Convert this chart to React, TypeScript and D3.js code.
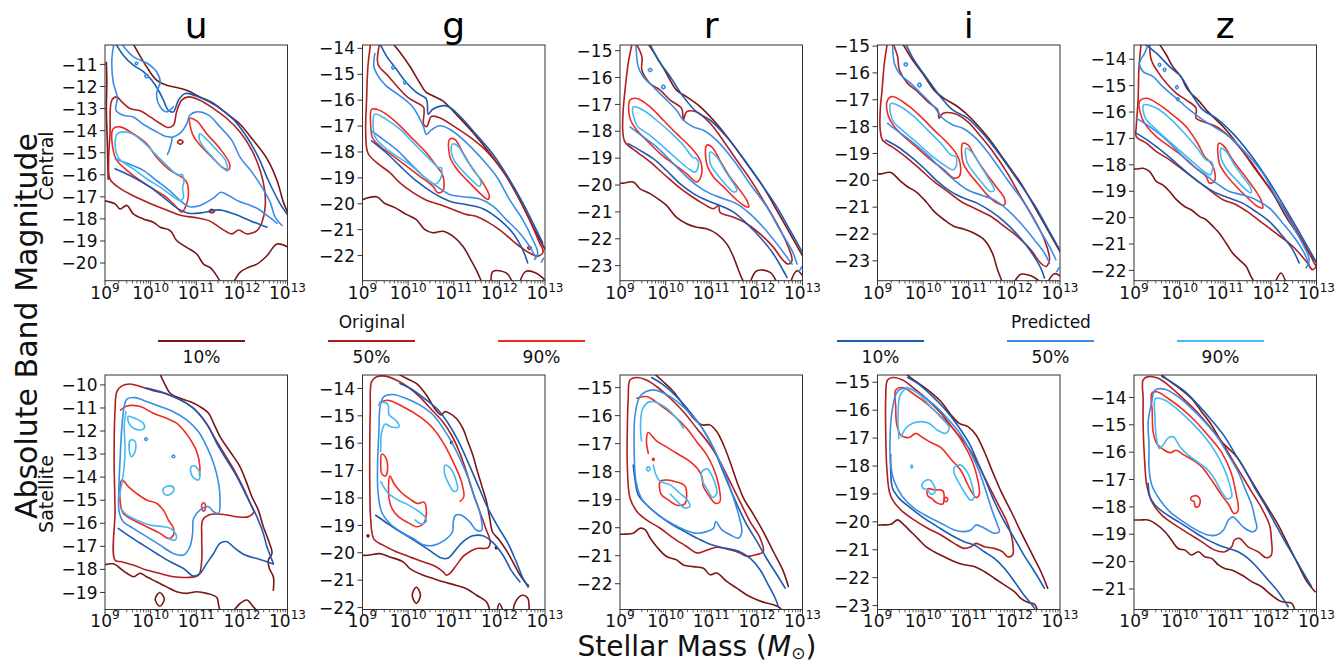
import React from "react";
import * as d3 from "d3";

type Pt = [number, number];
type Path = Pt[];

// ---------------- categories / ticks ----------------
const BANDS = ["u", "g", "r", "i", "z"];
const ROWS = ["Central", "Satellite"];
const LEVELS = ["10%", "50%", "90%"];
const X_DECADES = [9, 10, 11, 12, 13];
const X_MINOR_STEPS = [2, 3, 4, 5, 6, 7, 8, 9];

const Y_RANGE_CENTRAL: [number, number][] = [[-10.12, -20.8], [-13.87, -22.97], [-14.79, -23.56], [-14.96, -23.74], [-13.46, -22.39]];
const Y_RANGE_SATELLITE: [number, number][] = [[-9.57, -19.74], [-13.51, -22.07], [-14.55, -22.92], [-14.74, -23.14], [-13.18, -21.75]];
const Y_TICKS_CENTRAL = [
  [-11, -12, -13, -14, -15, -16, -17, -18, -19, -20],
  [-14, -15, -16, -17, -18, -19, -20, -21, -22],
  [-15, -16, -17, -18, -19, -20, -21, -22, -23],
  [-15, -16, -17, -18, -19, -20, -21, -22, -23],
  [-14, -15, -16, -17, -18, -19, -20, -21, -22],
];
const Y_TICKS_SATELLITE = [
  [-10, -11, -12, -13, -14, -15, -16, -17, -18, -19],
  [-14, -15, -16, -17, -18, -19, -20, -21, -22],
  [-15, -16, -17, -18, -19, -20, -21, -22],
  [-15, -16, -17, -18, -19, -20, -21, -22, -23],
  [-14, -15, -16, -17, -18, -19, -20, -21],
];

const ORIGINAL_COLORS = ["#7a1616", "#b01e1e", "#ef2b22"];
const PREDICTED_COLORS = ["#1c5bb0", "#3a8de6", "#45b9f2"];

// ---------------- contour vertices: [log10 M, magnitude] ----------------
// u / Central
const U_C_O10: Path[] = [
  [[9.6,-10.0],[9.91,-11.1],[10.13,-11.71],[10.35,-11.94],[10.57,-12.05],[10.79,-12.17],[11.08,-12.47],[11.38,-12.77],[11.67,-13.23],[11.96,-13.71],[12.25,-14.44],[12.55,-15.27],[12.77,-16.26],[12.91,-17.24],[13.03,-17.85]],
  [[9.03,-10.9],[9.04,-11.8],[9.03,-13.0],[9.05,-14.5],[9.07,-16.2]],
  [[8.97,-17.17],[9.22,-17.32],[9.33,-17.55],[9.48,-17.39],[9.62,-17.77],[9.84,-18.0],[10.06,-18.15],[10.21,-18.38],[10.43,-18.53],[10.57,-18.98],[10.79,-19.29],[11.01,-19.59],[11.16,-20.05],[11.3,-20.2],[11.45,-20.58],[11.55,-20.95]],
  [[11.8,-20.95],[11.96,-20.42],[12.14,-20.2],[12.33,-20.05],[12.55,-19.67],[12.77,-19.14],[13.03,-19.3]],
];
const U_C_O50: Path[] = [
  [[9.15,-12.62],[9.26,-12.47],[9.37,-12.7],[9.55,-13.0],[9.77,-13.1],[9.99,-13.38],[10.21,-13.68],[10.39,-13.86],[10.5,-13.76],[10.57,-13.15],[10.68,-12.62],[10.83,-12.47],[11.08,-12.62],[11.38,-13.0],[11.67,-13.45],[11.96,-14.06],[12.22,-14.89],[12.4,-15.8],[12.5,-16.71],[12.51,-17.47],[12.44,-18.15],[12.33,-18.53],[12.11,-18.68],[11.93,-18.5],[11.78,-18.68],[11.56,-18.45],[11.3,-18.1],[11.01,-17.95],[10.68,-17.85],[10.35,-17.6],[9.99,-17.3],[9.62,-16.95],[9.33,-16.62],[9.11,-16.2],[9.08,-15.35],[9.11,-14.14],[9.15,-12.62]],
  [[10.59,-14.52],[10.65,-14.42],[10.71,-14.52],[10.65,-14.62],[10.59,-14.52]],
  [[11.28,-17.65],[11.34,-17.57],[11.4,-17.65],[11.34,-17.73],[11.28,-17.65]],
];
const U_C_O90: Path[] = [
  [[9.18,-13.91],[9.33,-13.83],[9.62,-14.14],[9.91,-14.59],[10.13,-15.2],[10.43,-15.8],[10.68,-16.1],[10.79,-16.33],[10.83,-16.86],[10.79,-17.32],[10.68,-17.7],[10.57,-17.47],[10.35,-17.02],[10.06,-16.64],[9.77,-16.26],[9.48,-15.8],[9.26,-15.35],[9.18,-14.89],[9.18,-13.91]],
  [[10.86,-13.45],[11.01,-13.56],[11.23,-14.14],[11.52,-14.82],[11.73,-15.5],[11.71,-15.77],[11.56,-15.65],[11.34,-15.2],[11.12,-14.74],[10.95,-14.29],[10.88,-13.91],[10.86,-13.45]],
];
const U_C_P10: Path[] = [
  [[9.22,-10.0],[9.4,-10.58],[9.62,-11.03],[9.84,-11.33],[10.02,-11.71],[10.17,-12.17],[10.28,-12.62],[10.39,-13.08],[10.5,-13.15],[10.61,-12.62],[10.76,-12.32],[11.08,-12.5],[11.45,-12.89],[11.82,-13.5],[12.11,-14.29],[12.36,-15.2],[12.58,-16.26],[12.84,-17.32],[13.03,-17.9]],
  [[9.22,-15.73],[9.62,-16.11],[9.99,-16.56],[10.35,-17.14],[10.57,-17.5],[10.83,-17.74],[11.16,-17.71],[11.49,-17.59],[11.82,-17.77],[12.18,-18.08],[12.55,-18.38]],
];
const U_C_P50: Path[] = [
  [[9.2,-10.0],[9.15,-10.8],[9.18,-11.8],[9.27,-12.5],[9.24,-13.08],[9.4,-13.3],[9.62,-13.38],[9.84,-13.71],[10.1,-14.02],[10.32,-14.26],[10.46,-14.32],[10.43,-14.74],[10.37,-15.08]],
  [[10.48,-14.3],[10.65,-14.11],[10.79,-13.71],[10.86,-13.3],[11.01,-13.15],[11.27,-13.3],[11.52,-13.83],[11.78,-14.44],[11.96,-15.2],[12.22,-15.88],[12.44,-16.56],[12.62,-17.24],[12.73,-17.92],[12.88,-18.3]],
  [[9.22,-15.27],[9.51,-15.5],[9.84,-15.8],[10.13,-16.26],[10.43,-16.74],[10.65,-17.17],[10.83,-17.44],[11.08,-17.39],[11.38,-17.05],[11.54,-16.79],[11.71,-16.94],[11.93,-17.2],[12.14,-17.35],[12.36,-17.55],[12.58,-17.89],[12.77,-18.2]],
  [[9.34,-10.0],[9.62,-10.65],[9.95,-10.98],[10.13,-11.33],[10.21,-11.79],[10.13,-12.32],[10.21,-12.92],[10.35,-13.15],[10.5,-12.92]],
  [[9.66,-10.95],[9.69,-10.89],[9.72,-10.95],[9.69,-11.01],[9.66,-10.95]],
  [[9.87,-11.53],[9.91,-11.45],[9.95,-11.53],[9.91,-11.61],[9.87,-11.53]],
];
const U_C_P90: Path[] = [
  [[9.27,-14.14],[9.55,-14.11],[9.84,-14.52],[10.13,-15.12],[10.43,-15.73],[10.61,-16.03],[10.68,-15.98],[10.73,-16.26],[10.7,-16.64],[10.72,-17.02],[10.65,-17.17],[10.46,-16.94],[10.21,-16.56],[9.91,-16.18],[9.62,-15.73],[9.33,-15.32],[9.24,-14.97],[9.27,-14.14]],
  [[11.08,-14.14],[11.25,-14.44],[11.45,-14.89],[11.64,-15.35],[11.68,-15.83],[11.56,-15.65],[11.34,-15.17],[11.16,-14.74],[11.07,-14.41],[11.08,-14.14]],
];

// g / Central
const G_C_O10: Path[] = [
  [[9.66,-13.8],[9.82,-14.15],[10.03,-14.67],[10.25,-15.32],[10.4,-15.7],[10.54,-15.83],[10.76,-16.03],[11.05,-16.54],[11.42,-17.25],[11.78,-18.03],[12.15,-18.93],[12.44,-19.83],[12.73,-20.86],[13.03,-21.85]],
  [[8.97,-19.86],[9.31,-19.73],[9.49,-19.99],[9.71,-20.15],[9.96,-20.41],[10.18,-20.61],[10.36,-20.99],[10.54,-21.12],[10.76,-21.06],[10.98,-21.25],[11.2,-21.64],[11.35,-22.09],[11.49,-22.54],[11.62,-23.05]],
  [[11.82,-23.05],[11.86,-22.61],[12.15,-22.67],[12.29,-23.05]],
  [[12.44,-23.05],[12.58,-22.61],[12.8,-22.67],[13.03,-23.0]],
];
const G_C_O50: Path[] = [
  [[9.18,-13.8],[9.12,-14.67],[9.09,-15.96],[9.07,-17.25],[9.12,-18.05],[9.31,-18.41],[9.6,-18.8],[9.82,-19.19],[10.11,-19.57],[10.4,-19.86],[10.69,-20.03],[10.98,-20.22],[11.27,-20.41],[11.49,-20.48],[11.71,-20.67],[12.0,-21.0],[12.22,-21.32],[12.44,-21.64],[12.66,-21.9],[12.85,-22.02],[12.96,-21.85],[12.88,-21.51],[12.66,-20.61],[12.37,-19.6],[12.07,-18.72],[11.71,-17.95],[11.35,-17.42],[10.98,-16.98],[10.69,-16.68],[10.51,-16.63],[10.41,-17.02],[10.34,-16.93],[10.34,-16.28],[10.18,-16.09],[10.0,-15.9],[9.78,-15.51],[9.56,-15.06],[9.34,-14.61],[9.38,-13.8]],
  [[12.62,-21.7],[12.66,-21.64],[12.7,-21.7],[12.66,-21.76],[12.62,-21.7]],
];
const G_C_O90: Path[] = [
  [[9.2,-16.35],[9.31,-16.35],[9.52,-16.54],[9.82,-16.99],[10.11,-17.51],[10.4,-18.03],[10.62,-18.54],[10.73,-18.8],[10.78,-19.06],[10.76,-19.51],[10.65,-19.57],[10.54,-19.32],[10.25,-18.93],[9.96,-18.54],[9.67,-18.15],[9.38,-17.77],[9.22,-17.45],[9.18,-17.0],[9.2,-16.35]],
  [[10.91,-17.51],[11.02,-17.51],[11.2,-18.03],[11.42,-18.67],[11.64,-19.19],[11.78,-19.7],[11.75,-19.83],[11.6,-19.64],[11.42,-19.32],[11.2,-18.93],[11.02,-18.54],[10.91,-18.15],[10.91,-17.51]],
];
const G_C_P10: Path[] = [
  [[9.38,-13.8],[9.52,-14.28],[9.74,-14.8],[9.96,-15.32],[10.18,-15.7],[10.4,-15.96],[10.44,-16.54],[10.54,-16.35],[10.84,-16.22],[11.13,-16.61],[11.49,-17.32],[11.86,-18.09],[12.22,-19.06],[12.51,-19.96],[12.77,-20.86],[12.95,-21.51]],
  [[9.2,-17.57],[9.52,-18.03],[9.82,-18.54],[10.18,-19.12],[10.54,-19.57],[10.91,-19.9],[11.27,-20.03],[11.64,-20.19],[12.0,-20.61],[12.29,-21.12],[12.51,-21.77],[12.62,-22.28]],
];
const G_C_P50: Path[] = [
  [[9.27,-14.2],[9.25,-14.7],[9.34,-15.06],[9.52,-15.45],[9.82,-15.83],[10.11,-16.28],[10.33,-16.99],[10.4,-17.32],[10.51,-17.15],[10.69,-16.99],[10.91,-17.12],[11.2,-17.51],[11.56,-18.15],[11.93,-18.93],[12.22,-19.83],[12.51,-20.61],[12.73,-21.38],[12.84,-21.9],[12.77,-22.15]],
  [[9.2,-17.19],[9.45,-17.51],[9.74,-17.9],[10.03,-18.41],[10.33,-18.93],[10.62,-19.32],[10.91,-19.64],[11.2,-19.73],[11.56,-19.81],[11.86,-20.09],[12.15,-20.61],[12.44,-21.12],[12.66,-21.64],[12.8,-22.09]],
  [[12.92,-22.25],[12.97,-22.1]],
  [[9.64,-14.74],[9.67,-14.68],[9.7,-14.74],[9.67,-14.8],[9.64,-14.74]],
  [[9.9,-15.32],[9.93,-15.26],[9.96,-15.32],[9.93,-15.38],[9.9,-15.32]],
];
const G_C_P90: Path[] = [
  [[9.27,-16.54],[9.52,-16.74],[9.82,-17.12],[10.11,-17.64],[10.4,-18.15],[10.62,-18.54],[10.68,-18.61],[10.73,-18.61],[10.73,-18.93],[10.65,-19.19],[10.58,-19.25],[10.33,-18.93],[10.03,-18.48],[9.74,-18.15],[9.45,-17.77],[9.27,-17.38],[9.27,-16.54]],
  [[10.97,-17.7],[11.09,-17.77],[11.27,-18.28],[11.46,-18.74],[11.6,-19.19],[11.56,-19.32],[11.38,-19.06],[11.2,-18.74],[11.02,-18.35],[10.95,-18.03],[10.97,-17.7]],
];

// r / Central
const R_C_O10: Path[] = [
  [[9.6,-14.7],[9.8,-15.22],[10.02,-15.85],[10.24,-16.47],[10.46,-16.72],[10.76,-17.09],[11.05,-17.59],[11.41,-18.34],[11.78,-19.21],[12.14,-20.07],[12.44,-20.95],[12.73,-21.82],[13.03,-22.72]],
  [[8.97,-19.93],[9.07,-19.93],[9.29,-19.89],[9.44,-20.14],[9.66,-20.32],[9.88,-20.57],[10.02,-20.76],[10.24,-21.2],[10.46,-21.44],[10.68,-21.57],[10.9,-21.63],[11.12,-21.82],[11.34,-22.19],[11.49,-22.69],[11.63,-23.31],[11.72,-23.65]],
  [[11.85,-23.65],[12.0,-23.19],[12.29,-23.25],[12.44,-23.65]],
  [[12.73,-23.65],[12.88,-23.19],[13.03,-23.44]],
];
const R_C_O50: Path[] = [
  [[9.27,-14.7],[9.18,-15.47],[9.11,-16.47],[9.07,-17.22],[9.06,-17.96],[9.11,-18.4],[9.37,-18.77],[9.66,-19.14],[9.95,-19.58],[10.24,-20.01],[10.54,-20.39],[10.83,-20.7],[11.05,-20.88],[11.16,-20.76],[11.19,-21.01],[11.49,-21.2],[11.78,-21.44],[12.07,-21.82],[12.36,-22.31],[12.58,-22.81],[12.69,-22.94],[12.77,-22.81],[12.66,-22.19],[12.44,-21.44],[12.14,-20.57],[11.85,-19.77],[11.56,-19.08],[11.26,-18.34],[10.98,-17.71],[10.68,-17.28],[10.46,-17.28],[10.39,-17.59],[10.35,-17.15],[10.1,-16.84],[9.88,-16.47],[9.66,-16.22],[9.48,-15.72],[9.48,-15.22],[9.34,-14.7]],
];
const R_C_O90: Path[] = [
  [[9.22,-16.84],[9.37,-16.78],[9.66,-17.09],[9.95,-17.59],[10.24,-18.09],[10.54,-18.58],[10.72,-18.96],[10.79,-19.27],[10.77,-19.7],[10.68,-19.89],[10.46,-19.58],[10.17,-19.21],[9.88,-18.83],[9.58,-18.33],[9.37,-17.96],[9.22,-17.53],[9.22,-16.84]],
  [[10.9,-18.52],[11.01,-18.58],[11.19,-19.08],[11.41,-19.7],[11.63,-20.2],[11.78,-20.57],[11.82,-20.82],[11.71,-20.76],[11.49,-20.45],[11.27,-20.07],[11.05,-19.7],[10.9,-19.21],[10.9,-18.52]],
];
const R_C_P10: Path[] = [
  [[9.64,-14.7],[9.84,-15.35],[10.1,-15.97],[10.39,-16.72],[10.68,-17.28],[10.98,-17.59],[11.34,-18.21],[11.71,-19.02],[12.07,-19.89],[12.44,-20.82],[12.73,-21.69],[13.03,-22.6]],
  [[9.18,-18.46],[9.44,-18.71],[9.73,-19.02],[10.02,-19.46],[10.32,-19.96],[10.61,-20.32],[10.9,-20.57],[11.19,-20.76],[11.49,-21.01],[11.78,-21.44],[12.07,-21.94],[12.36,-22.56],[12.58,-23.19],[12.66,-23.44]],
];
const R_C_P50: Path[] = [
  [[9.35,-14.75],[9.4,-15.6],[9.51,-15.97],[9.73,-16.35],[9.95,-16.72],[10.24,-17.22],[10.39,-17.59],[10.61,-17.84],[10.83,-17.96],[11.12,-18.34],[11.49,-19.08],[11.85,-19.96],[12.22,-20.82],[12.51,-21.69],[12.77,-22.44],[12.88,-22.94]],
  [[9.22,-17.84],[9.51,-18.21],[9.8,-18.58],[10.1,-19.08],[10.39,-19.58],[10.68,-20.01],[10.98,-20.32],[11.27,-20.51],[11.56,-20.7],[11.85,-21.07],[12.14,-21.57],[12.44,-22.19],[12.66,-22.69],[12.77,-22.94]],
  [[9.62,-15.72],[9.66,-15.66],[9.7,-15.72],[9.66,-15.78],[9.62,-15.72]],
  [[9.91,-16.35],[9.95,-16.28],[9.99,-16.35],[9.95,-16.42],[9.91,-16.35]],
  [[12.93,-23.2],[12.98,-23.05]],
];
const R_C_P90: Path[] = [
  [[9.29,-17.09],[9.51,-17.22],[9.8,-17.59],[10.1,-18.03],[10.39,-18.52],[10.59,-18.96],[10.68,-19.02],[10.72,-19.27],[10.65,-19.52],[10.5,-19.39],[10.24,-19.02],[9.95,-18.58],[9.66,-18.15],[9.37,-17.78],[9.29,-17.09]],
  [[10.98,-18.77],[11.12,-18.96],[11.3,-19.46],[11.49,-19.95],[11.56,-20.2],[11.49,-20.26],[11.3,-19.95],[11.12,-19.58],[10.98,-19.21],[10.98,-18.77]],
];

// i / Central
const I_C_O10: Path[] = [
  [[9.53,-14.85],[9.77,-15.52],[9.99,-16.02],[10.24,-16.64],[10.46,-16.95],[10.76,-17.26],[11.05,-17.69],[11.41,-18.38],[11.78,-19.24],[12.14,-20.11],[12.44,-20.98],[12.73,-21.85],[13.03,-22.75]],
  [[8.97,-19.76],[9.07,-19.76],[9.29,-19.71],[9.48,-19.99],[9.66,-20.24],[9.84,-20.42],[10.06,-20.79],[10.24,-21.16],[10.46,-21.47],[10.68,-21.72],[10.9,-21.82],[11.12,-21.97],[11.34,-22.22],[11.52,-22.72],[11.63,-23.33],[11.74,-23.8]],
  [[12.0,-23.8],[12.14,-23.5],[12.36,-23.56],[12.58,-23.8]],
  [[12.73,-23.8],[12.88,-23.48],[13.03,-23.6]],
];
const I_C_O50: Path[] = [
  [[9.22,-14.85],[9.15,-15.64],[9.1,-16.64],[9.06,-17.38],[9.06,-18.13],[9.11,-18.5],[9.37,-18.81],[9.66,-19.18],[9.95,-19.61],[10.24,-20.05],[10.54,-20.42],[10.83,-20.79],[11.05,-20.98],[11.19,-21.1],[11.49,-21.35],[11.78,-21.72],[12.07,-22.1],[12.36,-22.59],[12.58,-23.09],[12.69,-23.21],[12.77,-22.96],[12.66,-22.22],[12.44,-21.47],[12.14,-20.61],[11.85,-19.74],[11.56,-19.0],[11.27,-18.38],[10.98,-17.82],[10.68,-17.51],[10.43,-17.51],[10.35,-17.69],[10.32,-17.38],[10.1,-17.07],[9.88,-16.7],[9.66,-16.39],[9.48,-15.89],[9.44,-15.39],[9.33,-14.85]],
];
const I_C_O90: Path[] = [
  [[9.22,-17.01],[9.33,-16.88],[9.66,-17.2],[9.95,-17.63],[10.24,-18.13],[10.54,-18.62],[10.72,-18.99],[10.81,-19.36],[10.79,-19.86],[10.68,-19.92],[10.46,-19.61],[10.17,-19.24],[9.88,-18.81],[9.58,-18.37],[9.37,-18.0],[9.23,-17.57],[9.22,-17.01]],
  [[10.87,-18.62],[10.98,-18.68],[11.16,-19.18],[11.38,-19.74],[11.6,-20.24],[11.78,-20.67],[11.78,-20.92],[11.63,-20.86],[11.41,-20.55],[11.19,-20.11],[11.01,-19.74],[10.87,-19.31],[10.87,-18.62]],
];
const I_C_P10: Path[] = [
  [[9.6,-14.85],[9.8,-15.52],[10.06,-16.14],[10.35,-16.82],[10.65,-17.38],[10.98,-17.69],[11.34,-18.31],[11.71,-19.12],[12.07,-19.99],[12.44,-20.92],[12.73,-21.79],[13.03,-22.7]],
  [[9.18,-18.5],[9.44,-18.75],[9.73,-19.12],[10.02,-19.55],[10.32,-20.05],[10.61,-20.42],[10.9,-20.67],[11.19,-20.86],[11.49,-21.16],[11.78,-21.54],[12.07,-22.03],[12.36,-22.65],[12.58,-23.27],[12.66,-23.64]],
];
const I_C_P50: Path[] = [
  [[9.33,-14.9],[9.37,-15.64],[9.48,-16.02],[9.73,-16.39],[9.95,-16.76],[10.24,-17.26],[10.43,-17.69],[10.65,-17.94],[10.87,-18.06],[11.16,-18.44],[11.49,-19.12],[11.85,-19.99],[12.22,-20.86],[12.51,-21.72],[12.77,-22.47],[12.91,-22.96]],
  [[9.22,-17.88],[9.51,-18.25],[9.8,-18.62],[10.1,-19.06],[10.39,-19.55],[10.68,-19.99],[10.98,-20.36],[11.27,-20.55],[11.56,-20.73],[11.85,-21.1],[12.14,-21.6],[12.44,-22.22],[12.66,-22.71],[12.77,-23.09]],
  [[9.58,-15.68],[9.62,-15.62],[9.66,-15.68],[9.62,-15.74],[9.58,-15.68]],
  [[9.88,-16.45],[9.92,-16.38],[9.96,-16.45],[9.92,-16.52],[9.88,-16.45]],
  [[12.93,-23.4],[12.98,-23.25]],
];
const I_C_P90: Path[] = [
  [[9.29,-17.14],[9.51,-17.26],[9.8,-17.63],[10.1,-18.13],[10.39,-18.62],[10.61,-19.06],[10.72,-19.12],[10.72,-19.49],[10.65,-19.61],[10.46,-19.43],[10.17,-19.06],[9.88,-18.62],[9.58,-18.19],[9.33,-17.76],[9.29,-17.14]],
  [[10.94,-18.81],[11.09,-18.99],[11.27,-19.49],[11.45,-19.99],[11.56,-20.36],[11.47,-20.42],[11.3,-20.11],[11.12,-19.74],[10.96,-19.31],[10.94,-18.81]],
];

// z / Central
const Z_C_O10: Path[] = [
  [[9.54,-13.38],[9.71,-13.84],[9.85,-14.28],[10.03,-14.66],[10.18,-15.16],[10.4,-15.54],[10.65,-16.04],[10.95,-16.55],[11.31,-17.31],[11.67,-18.19],[12.04,-19.07],[12.33,-19.96],[12.62,-20.71],[12.84,-21.34],[13.03,-21.75]],
  [[8.97,-18.16],[9.05,-18.16],[9.2,-18.13],[9.34,-18.25],[9.49,-18.63],[9.63,-18.76],[9.78,-19.01],[9.93,-19.32],[10.11,-19.58],[10.25,-19.7],[10.44,-19.96],[10.58,-20.08],[10.73,-20.33],[10.87,-20.59],[11.02,-20.97],[11.16,-21.34],[11.31,-21.6],[11.46,-21.85],[11.56,-22.22],[11.64,-22.45]],
  [[12.1,-22.45],[12.22,-22.1],[12.33,-22.45]],
];
const Z_C_O50: Path[] = [
  [[9.16,-13.38],[9.11,-14.28],[9.09,-15.54],[9.05,-16.55],[9.05,-16.93],[9.27,-17.18],[9.49,-17.5],[9.78,-17.81],[10.07,-18.19],[10.36,-18.57],[10.65,-18.95],[10.95,-19.32],[11.24,-19.51],[11.53,-19.83],[11.82,-20.21],[12.11,-20.59],[12.4,-20.97],[12.62,-21.34],[12.8,-21.72],[12.91,-21.97],[12.99,-21.85],[12.95,-21.72],[12.8,-21.21],[12.55,-20.46],[12.25,-19.58],[11.89,-18.69],[11.53,-17.81],[11.16,-17.05],[10.8,-16.55],[10.51,-16.36],[10.36,-16.23],[10.36,-15.85],[10.14,-15.54],[9.93,-15.29],[9.71,-14.91],[9.52,-14.47],[9.38,-14.03],[9.34,-13.38]],
];
const Z_C_O90: Path[] = [
  [[9.12,-15.6],[9.27,-15.48],[9.56,-15.73],[9.85,-16.11],[10.14,-16.55],[10.4,-17.2],[10.55,-17.69],[10.69,-17.94],[10.76,-18.19],[10.76,-18.63],[10.65,-18.69],[10.58,-18.44],[10.36,-18.13],[10.07,-17.68],[9.78,-17.31],[9.49,-16.93],[9.23,-16.42],[9.14,-16.04],[9.12,-15.6]],
  [[10.86,-17.18],[10.98,-17.31],[11.16,-17.81],[11.38,-18.31],[11.6,-18.82],[11.78,-19.32],[11.82,-19.64],[11.71,-19.58],[11.46,-19.2],[11.24,-18.82],[11.02,-18.38],[10.87,-17.94],[10.86,-17.18]],
];
const Z_C_P10: Path[] = [
  [[9.2,-13.38],[9.49,-13.77],[9.78,-14.28],[10.03,-14.66],[10.25,-15.29],[10.51,-15.92],[10.8,-16.23],[11.16,-16.8],[11.53,-17.56],[11.89,-18.44],[12.25,-19.45],[12.55,-20.33],[12.84,-21.21],[13.03,-21.8]],
  [[9.05,-16.8],[9.34,-17.12],[9.63,-17.5],[9.93,-17.94],[10.22,-18.38],[10.51,-18.76],[10.8,-19.07],[11.09,-19.26],[11.38,-19.45],[11.67,-19.77],[11.97,-20.15],[12.26,-20.71],[12.48,-21.22],[12.62,-21.72]],
];
const Z_C_P50: Path[] = [
  [[9.32,-13.4],[9.24,-13.75],[9.12,-14.15],[9.2,-14.47],[9.42,-14.66],[9.63,-15.04],[9.93,-15.48],[10.22,-15.92],[10.51,-16.3],[10.8,-16.61],[11.09,-16.93],[11.46,-17.56],[11.82,-18.31],[12.11,-19.2],[12.4,-20.08],[12.69,-20.97],[12.84,-21.6],[12.77,-21.91]],
  [[9.05,-16.23],[9.34,-16.55],[9.63,-16.93],[9.93,-17.43],[10.22,-17.94],[10.51,-18.31],[10.8,-18.69],[11.09,-19.01],[11.38,-19.14],[11.67,-19.32],[11.97,-19.64],[12.26,-20.21],[12.55,-20.84],[12.73,-21.34],[12.84,-21.78]],
  [[9.53,-14.21],[9.56,-14.15],[9.59,-14.21],[9.56,-14.27],[9.53,-14.21]],
  [[9.64,-14.4],[9.67,-14.34],[9.7,-14.4],[9.67,-14.46],[9.64,-14.4]],
  [[9.91,-15.06],[9.94,-15.0],[9.97,-15.06],[9.94,-15.12],[9.91,-15.06]],
  [[9.93,-15.51],[9.96,-15.45],[9.99,-15.51],[9.96,-15.57],[9.93,-15.51]],
];
const Z_C_P90: Path[] = [
  [[9.21,-15.73],[9.49,-15.85],[9.78,-16.23],[10.07,-16.74],[10.36,-17.31],[10.58,-17.81],[10.69,-17.88],[10.73,-18.0],[10.67,-18.38],[10.58,-18.31],[10.36,-18.0],[10.07,-17.56],[9.78,-17.12],[9.49,-16.67],[9.25,-16.23],[9.21,-15.73]],
  [[10.91,-17.37],[11.02,-17.5],[11.2,-18.0],[11.38,-18.44],[11.56,-18.88],[11.56,-19.07],[11.46,-18.95],[11.24,-18.57],[11.02,-18.13],[10.91,-17.75],[10.91,-17.37]],
];

// u / Satellite
const U_S_O10: Path[] = [
  [[10.2,-9.5],[10.32,-10.0],[10.43,-10.36],[10.65,-10.58],[10.86,-10.72],[11.08,-10.94],[11.27,-11.23],[11.38,-11.66],[11.52,-12.24],[11.74,-12.89],[11.96,-13.55],[12.11,-14.27],[12.22,-14.85],[12.36,-15.43],[12.47,-16.15],[12.58,-16.73],[12.66,-17.3],[12.58,-17.6],[12.6,-17.95],[12.69,-18.32],[12.69,-18.9]],
  [[8.97,-17.81],[9.18,-17.76],[9.33,-17.95],[9.48,-18.17],[9.62,-18.32],[9.77,-18.17],[9.91,-18.32],[10.13,-18.54],[10.35,-18.76],[10.57,-18.97],[10.79,-19.04],[11.01,-18.97],[11.23,-19.04],[11.45,-19.22],[11.49,-19.55],[11.52,-19.8]],
  [[10.1,-19.3],[10.2,-19.0],[10.3,-19.3],[10.2,-19.6],[10.1,-19.3]],
  [[11.82,-19.8],[11.96,-19.48],[12.11,-19.33],[12.25,-19.62],[12.33,-19.8]],
];
const U_S_O50: Path[] = [
  [[9.22,-17.6],[9.22,-15.43],[9.2,-13.26],[9.22,-11.09],[9.26,-10.29],[9.37,-10.04],[9.55,-9.96],[9.77,-10.07],[10.06,-10.25],[10.35,-10.39],[10.65,-10.65],[10.94,-11.01],[11.19,-11.59],[11.41,-12.32],[11.63,-13.04],[11.85,-13.76],[12.07,-14.63],[12.25,-15.43],[12.27,-15.5],[12.14,-15.72],[11.89,-15.72],[11.67,-15.64],[11.45,-15.6],[11.27,-15.64],[11.14,-15.86],[11.12,-16.58],[11.12,-17.6],[11.05,-18.25],[10.79,-18.35],[10.5,-18.32],[10.21,-18.18],[9.91,-18.03],[9.62,-17.81],[9.37,-17.67],[9.22,-17.6]],
];
const U_S_O90: Path[] = [
  [[9.34,-11.09],[9.48,-10.91],[9.77,-10.94],[10.06,-11.23],[10.35,-11.45],[10.57,-11.66],[10.75,-12.03],[10.9,-12.46],[11.01,-12.89],[11.08,-13.55],[11.07,-13.91]],
  [[9.37,-14.12],[9.51,-14.41],[9.69,-14.7],[9.91,-14.99],[10.13,-15.13],[10.28,-15.43],[10.39,-15.86],[10.5,-16.22],[10.5,-16.51],[10.39,-16.66],[10.21,-16.44],[9.91,-16.15],[9.62,-15.86],[9.4,-15.57],[9.33,-14.99],[9.37,-14.12]],
  [[11.12,-15.2],[11.16,-15.1],[11.2,-15.2],[11.18,-15.45],[11.14,-15.45],[11.12,-15.2]],
];
const U_S_P10: Path[] = [
  [[9.91,-10.14],[10.21,-10.29],[10.5,-10.51],[10.79,-10.8],[11.05,-11.23],[11.27,-11.81],[11.45,-12.53],[11.67,-13.26],[11.89,-13.98],[12.11,-14.85],[12.33,-15.72],[12.47,-16.44],[12.55,-17.02],[12.69,-17.74]],
  [[9.29,-16.22],[9.55,-16.58],[9.84,-16.95],[10.13,-17.31],[10.43,-17.67],[10.72,-17.96],[10.94,-18.29],[11.08,-18.18],[11.23,-17.74],[11.38,-17.31],[11.52,-16.87],[11.67,-16.8],[11.85,-17.09],[12.07,-17.38],[12.33,-17.53],[12.55,-17.67],[12.69,-17.77]],
];
const U_S_P50: Path[] = [
  [[9.48,-10.62],[9.66,-10.55],[9.91,-10.72],[10.21,-10.94],[10.5,-11.16],[10.79,-11.52],[11.05,-12.03],[11.23,-12.68],[11.38,-13.4],[11.49,-14.27],[11.52,-14.99],[11.49,-15.57],[11.38,-15.5],[11.27,-15.28],[11.08,-15.43],[10.94,-15.79],[10.92,-16.44],[10.86,-17.02],[10.72,-17.38],[10.5,-17.31],[10.21,-16.95],[9.91,-16.58],[9.62,-16.22],[9.4,-15.93],[9.31,-15.5],[9.3,-14.7],[9.33,-13.26],[9.37,-11.81],[9.42,-10.94],[9.48,-10.62]],
  [[9.87,-12.35],[9.9,-12.29],[9.93,-12.35],[9.9,-12.41],[9.87,-12.35]],
  [[10.47,-13.1],[10.5,-13.04],[10.53,-13.1],[10.5,-13.16],[10.47,-13.1]],
];
const U_S_P90: Path[] = [
  [[9.46,-11.16],[9.42,-11.81],[9.44,-12.68],[9.42,-13.55],[9.37,-14.27],[9.31,-14.85]],
  [[9.51,-11.37],[9.66,-11.45],[9.84,-11.66],[9.86,-11.88],[9.73,-11.95],[9.58,-11.81],[9.51,-11.59],[9.51,-11.37]],
  [[9.56,-12.39],[9.66,-12.46],[9.66,-12.89],[9.58,-13.11],[9.53,-12.82],[9.56,-12.39]],
  [[10.28,-14.49],[10.43,-14.38],[10.51,-14.49],[10.46,-14.7],[10.35,-14.78],[10.28,-14.67],[10.28,-14.49]],
  [[10.88,-13.57],[10.97,-13.52],[11.08,-13.84],[11.05,-14.12],[10.92,-13.98],[10.88,-13.57]],
  [[9.34,-15.35],[9.48,-15.64],[9.69,-15.86],[9.99,-16.08],[10.28,-16.15],[10.43,-16.22],[10.56,-16.51],[10.54,-16.73],[10.39,-16.66]],
];

// g / Satellite
const G_S_O10: Path[] = [
  [[9.76,-13.45],[9.96,-13.63],[10.18,-13.82],[10.4,-14.24],[10.58,-14.73],[10.73,-14.97],[10.8,-14.85],[10.91,-14.91],[11.06,-15.1],[11.2,-15.46],[11.31,-15.95],[11.42,-16.44],[11.5,-16.92],[11.61,-17.53],[11.72,-18.14],[11.79,-18.75],[11.85,-19.24],[11.98,-19.5],[12.15,-19.9],[12.3,-20.35],[12.45,-20.8],[12.58,-21.1],[12.64,-21.2]],
  [[8.97,-20.09],[9.12,-20.09],[9.38,-20.03],[9.6,-20.15],[9.89,-20.33],[10.04,-20.58],[10.33,-20.82],[10.55,-20.94],[10.77,-21.06],[11.06,-21.19],[11.28,-21.31],[11.5,-21.55],[11.72,-21.8],[11.79,-22.12]],
  [[10.09,-21.55],[10.18,-21.25],[10.27,-21.55],[10.18,-21.85],[10.09,-21.55]],
  [[11.95,-22.12],[12.0,-21.85],[12.08,-22.12]],
  [[12.3,-22.12],[12.35,-21.8],[12.5,-21.55],[12.62,-21.65],[12.65,-22.12]],
  [[10.93,-15.97],[10.95,-15.93],[10.97,-15.97],[10.95,-16.01],[10.93,-15.97]],
  [[11.91,-19.82],[11.93,-19.78],[11.95,-19.82],[11.93,-19.86],[11.91,-19.82]],
  [[9.1,-19.38],[9.12,-19.34],[9.14,-19.38],[9.12,-19.42],[9.1,-19.38]],
];
const G_S_O50: Path[] = [
  [[9.2,-13.75],[9.3,-13.58],[9.5,-13.55],[9.75,-13.7],[10.0,-13.95],[10.25,-14.3],[10.5,-14.75],[10.75,-15.2],[10.95,-15.7],[11.12,-16.3],[11.27,-17.0],[11.4,-17.7],[11.55,-18.4],[11.7,-19.1],[11.8,-19.6],[11.75,-19.82],[11.5,-19.84],[11.35,-19.96],[11.2,-20.14],[11.06,-20.45],[10.91,-20.76],[10.84,-20.82],[10.77,-20.7],[10.62,-20.52],[10.33,-20.33],[10.04,-20.15],[9.74,-19.96],[9.45,-19.72],[9.25,-19.5],[9.18,-18.8],[9.16,-17.5],[9.16,-16.0],[9.17,-14.8],[9.2,-13.75]],
];
const G_S_O90: Path[] = [
  [[9.38,-14.51],[9.56,-14.43],[9.89,-14.67],[10.26,-15.04],[10.55,-15.46],[10.8,-16.07],[11.02,-16.8],[11.17,-17.41],[11.22,-17.96],[11.14,-18.12]],
  [[9.42,-16.4],[9.5,-16.5],[9.55,-16.9],[9.5,-17.2],[9.42,-17.1],[9.4,-16.7],[9.42,-16.4]],
  [[9.6,-17.2],[9.7,-17.5],[9.85,-17.8],[10.05,-18.05],[10.2,-18.2],[10.35,-18.15],[10.4,-18.5],[10.35,-18.9],[10.2,-19.05],[10.0,-18.9],[9.8,-18.7],[9.65,-18.4],[9.58,-18.0],[9.6,-17.2]],
];
const G_S_P10: Path[] = [
  [[9.82,-13.82],[10.07,-14.02],[10.36,-14.37],[10.66,-14.79],[10.88,-15.28],[11.09,-15.89],[11.31,-16.68],[11.53,-17.53],[11.75,-18.38],[11.97,-19.05],[12.19,-19.66],[12.37,-20.33],[12.52,-20.94],[12.63,-21.25]],
  [[9.29,-18.63],[9.6,-18.99],[9.89,-19.3],[10.18,-19.6],[10.47,-19.91],[10.73,-20.19],[10.88,-20.19],[11.02,-19.94],[11.2,-19.6],[11.42,-19.38],[11.64,-19.38],[11.86,-19.63],[12.08,-20.09],[12.26,-20.64],[12.45,-21.06]],
];
const G_S_P50: Path[] = [
  [[9.47,-14.3],[9.67,-14.22],[9.96,-14.37],[10.26,-14.61],[10.55,-14.97],[10.77,-15.46],[10.99,-16.07],[11.2,-16.8],[11.35,-17.41],[11.46,-18.02],[11.57,-18.51],[11.61,-19.18],[11.5,-19.18],[11.35,-18.87],[11.17,-18.63],[11.04,-18.63],[10.99,-18.87],[10.97,-19.24],[10.8,-19.54],[10.58,-19.72],[10.36,-19.72],[10.11,-19.48],[9.85,-19.24],[9.6,-18.93],[9.42,-18.51],[9.34,-17.78],[9.33,-16.8],[9.36,-15.58],[9.39,-14.61],[9.47,-14.3]],
];
const G_S_P90: Path[] = [
  [[9.35,-14.6],[9.45,-14.5],[9.56,-14.6],[9.58,-14.95],[9.75,-15.2],[9.8,-15.4],[9.62,-15.4],[9.5,-15.3],[9.42,-15.6],[9.4,-16.3]],
  [[9.4,-17.4],[9.55,-17.8],[9.75,-18.05],[10.0,-18.25],[10.2,-18.45],[10.35,-18.65],[10.4,-18.85],[10.3,-18.95],[10.15,-18.8]],
  [[10.81,-16.8],[10.92,-16.9],[11.05,-17.35],[11.08,-17.7],[11.0,-17.75],[10.88,-17.45],[10.8,-17.1],[10.81,-16.8]],
];

// r / Satellite
const R_S_O10: Path[] = [
  [[9.75,-14.5],[9.95,-14.79],[10.17,-15.14],[10.39,-15.62],[10.61,-16.09],[10.79,-16.33],[10.97,-16.33],[11.12,-16.57],[11.27,-17.05],[11.41,-17.64],[11.56,-18.35],[11.71,-18.95],[11.93,-19.54],[12.14,-20.14],[12.36,-20.85],[12.58,-21.56],[12.69,-22.1]],
  [[8.97,-20.23],[9.11,-20.23],[9.29,-20.2],[9.44,-20.02],[9.55,-20.07],[9.66,-20.37],[9.8,-20.67],[10.02,-21.03],[10.24,-21.15],[10.39,-21.33],[10.61,-21.39],[10.83,-21.45],[10.97,-21.68],[11.12,-21.62],[11.34,-21.92],[11.56,-22.16],[11.78,-22.4],[12.0,-22.57],[12.21,-22.69],[12.36,-22.75],[12.51,-22.87],[12.55,-23.0]],
];
const R_S_O50: Path[] = [
  [[9.22,-14.73],[9.37,-14.64],[9.58,-14.73],[9.8,-14.96],[10.1,-15.38],[10.39,-15.86],[10.68,-16.45],[10.97,-17.05],[11.19,-17.64],[11.41,-18.35],[11.63,-19.07],[11.85,-19.78],[12.07,-20.37],[12.14,-20.85],[12.0,-20.96],[11.78,-21.02],[11.63,-20.9],[11.41,-20.79],[11.12,-20.7],[10.83,-20.85],[10.68,-20.9],[10.46,-20.67],[10.17,-20.37],[9.88,-20.02],[9.58,-19.72],[9.37,-19.42],[9.22,-18.95],[9.16,-17.76],[9.16,-16.57],[9.18,-15.38],[9.22,-14.73]],
];
const R_S_O90: Path[] = [
  [[9.37,-15.38],[9.58,-15.32],[9.88,-15.62],[10.17,-15.98],[10.46,-16.45],[10.68,-16.93],[10.9,-17.4],[11.05,-17.88],[11.16,-18.47],[11.19,-19.07],[11.09,-19.13],[10.94,-18.83],[10.82,-18.5],[10.8,-18.2],[10.7,-17.9],[10.5,-17.6],[10.25,-17.35],[10.0,-17.1],[9.8,-16.9],[9.62,-16.6],[9.58,-16.9],[9.62,-17.35]],
  [[9.88,-18.35],[10.0,-18.3],[10.2,-18.35],[10.42,-18.5],[10.46,-18.9],[10.42,-19.15],[10.25,-19.2],[10.05,-19.0],[9.9,-18.8],[9.88,-18.35]],
  [[9.71,-17.56],[9.73,-17.52],[9.75,-17.56],[9.73,-17.6],[9.71,-17.56]],
];
const R_S_P10: Path[] = [
  [[9.69,-14.64],[9.95,-14.9],[10.24,-15.32],[10.53,-15.86],[10.83,-16.51],[11.05,-17.16],[11.23,-17.88],[11.41,-18.59],[11.6,-19.3],[11.78,-19.9],[12.0,-20.49],[12.21,-21.09],[12.44,-21.68],[12.62,-22.16]],
  [[9.29,-17.76],[9.33,-18.29],[9.4,-18.83],[9.58,-19.18],[9.84,-19.54],[10.13,-19.88],[10.42,-20.14],[10.72,-20.4],[11.01,-20.61],[11.3,-20.73],[11.59,-20.83],[11.85,-21.09],[12.07,-21.5],[12.25,-22.04],[12.4,-22.51],[12.47,-22.81]],
];
const R_S_P50: Path[] = [
  [[9.31,-17.16],[9.33,-15.98],[9.45,-15.29],[9.73,-15.08],[10.1,-15.32],[10.46,-15.8],[10.75,-16.33],[10.97,-16.93],[11.19,-17.64],[11.34,-18.23],[11.49,-18.95],[11.6,-19.54],[11.67,-20.14],[11.6,-20.37],[11.41,-20.25],[11.23,-20.07],[11.1,-19.78],[11.05,-20.02],[10.9,-20.14],[10.68,-20.2],[10.42,-20.08],[10.17,-19.88],[9.88,-19.6],[9.66,-19.3],[9.47,-18.95],[9.35,-18.35],[9.31,-17.16]],
];
const R_S_P90: Path[] = [
  [[9.47,-16.9],[9.45,-16.31],[9.5,-15.74],[9.66,-15.5],[9.95,-15.65],[10.24,-16.09],[10.39,-16.45]],
  [[9.73,-17.76],[9.79,-18.12],[9.88,-18.35],[10.1,-18.47],[10.31,-18.77],[10.47,-19.0],[10.53,-19.24],[10.42,-19.3],[10.26,-19.07],[10.1,-18.8]],
  [[10.79,-18.02],[10.91,-17.9],[11.04,-18.23],[11.12,-18.77],[11.04,-18.92],[10.91,-18.63],[10.8,-18.3],[10.79,-18.02]],
  [[9.58,-17.9],[9.62,-17.82],[9.66,-17.9],[9.62,-17.98],[9.58,-17.9]],
];

// i / Satellite
const I_S_O10: Path[] = [
  [[9.6,-14.68],[9.8,-14.92],[10.1,-15.27],[10.39,-15.69],[10.61,-16.17],[10.79,-16.47],[10.98,-16.59],[11.16,-16.89],[11.34,-17.48],[11.52,-18.2],[11.71,-18.92],[11.93,-19.63],[12.14,-20.35],[12.36,-21.07],[12.58,-21.78],[12.73,-22.38]],
  [[8.97,-20.11],[9.11,-20.11],[9.29,-20.09],[9.44,-19.93],[9.58,-20.11],[9.73,-20.35],[9.88,-20.59],[10.06,-20.89],[10.24,-21.07],[10.46,-21.25],[10.68,-21.42],[10.9,-21.54],[11.12,-21.6],[11.34,-21.78],[11.56,-22.02],[11.78,-22.26],[12.0,-22.5],[12.14,-22.74],[12.29,-22.88],[12.44,-22.95],[12.51,-23.2]],
];
const I_S_O50: Path[] = [
  [[9.22,-14.92],[9.33,-14.83],[9.55,-14.92],[9.8,-15.22],[10.1,-15.63],[10.39,-16.11],[10.68,-16.71],[10.98,-17.31],[11.19,-17.9],[11.41,-18.62],[11.63,-19.33],[11.85,-20.05],[11.96,-20.71],[11.96,-21.19],[11.85,-21.25],[11.74,-21.07],[11.56,-20.95],[11.34,-20.89],[11.16,-20.77],[11.05,-20.89],[10.9,-20.95],[10.68,-20.77],[10.39,-20.47],[10.1,-20.23],[9.8,-19.93],[9.51,-19.57],[9.33,-19.21],[9.26,-18.92],[9.2,-17.96],[9.18,-16.77],[9.18,-15.57],[9.22,-14.92]],
];
const I_S_O90: Path[] = [
  [[9.4,-15.28],[9.55,-15.19],[9.8,-15.43],[10.1,-15.79],[10.39,-16.23],[10.68,-16.71],[10.9,-17.24],[11.08,-17.84],[11.19,-18.44],[11.23,-19.01],[11.16,-19.13],[11.05,-18.89],[10.94,-18.53],[10.83,-18.17],[10.61,-17.76],[10.39,-17.34],[10.17,-17.16],[9.99,-16.98],[9.84,-16.83],[9.69,-16.98],[9.51,-16.89],[9.42,-16.5],[9.4,-15.9],[9.4,-15.28]],
  [[10.1,-18.82],[10.24,-18.85],[10.43,-18.89],[10.46,-19.18],[10.43,-19.36],[10.31,-19.33],[10.2,-19.18],[10.1,-19.06],[10.1,-18.82]],
  [[10.46,-19.2],[10.5,-19.12],[10.54,-19.2],[10.5,-19.28],[10.46,-19.2]],
];
const I_S_P10: Path[] = [
  [[9.66,-14.83],[9.88,-15.04],[10.17,-15.45],[10.46,-15.93],[10.75,-16.53],[11.01,-17.19],[11.19,-17.84],[11.38,-18.56],[11.56,-19.27],[11.78,-19.99],[12.0,-20.59],[12.21,-21.19],[12.44,-21.78],[12.66,-22.38]],
  [[9.29,-17.6],[9.29,-18.2],[9.33,-18.8],[9.47,-19.15],[9.73,-19.51],[10.02,-19.87],[10.31,-20.17],[10.61,-20.47],[10.9,-20.71],[11.12,-20.83],[11.34,-21.07],[11.56,-21.31],[11.78,-21.66],[12.0,-22.14],[12.21,-22.62],[12.36,-22.92],[12.44,-23.1]],
];
const I_S_P50: Path[] = [
  [[9.28,-16.77],[9.33,-15.93],[9.44,-15.33],[9.66,-15.21],[9.95,-15.45],[10.24,-15.81],[10.53,-16.29],[10.83,-16.89],[11.05,-17.55],[11.23,-18.2],[11.38,-18.92],[11.52,-19.63],[11.63,-20.11],[11.67,-20.35],[11.56,-20.41],[11.41,-20.29],[11.27,-20.17],[11.16,-20.11],[11.05,-20.29],[10.9,-20.35],[10.68,-20.29],[10.39,-20.05],[10.1,-19.81],[9.8,-19.51],[9.55,-19.1],[9.37,-18.56],[9.29,-17.96],[9.28,-16.77]],
];
const I_S_P90: Path[] = [
  [[9.47,-17.01],[9.45,-16.3],[9.5,-15.46],[9.66,-15.22],[9.88,-15.39],[10.13,-15.81],[10.39,-16.26],[10.57,-16.62],[10.5,-16.83],[10.31,-16.71],[10.13,-16.47],[9.95,-16.41],[9.77,-16.47],[9.62,-16.65],[9.52,-16.95]],
  [[9.99,-18.61],[10.13,-18.49],[10.23,-18.67],[10.26,-18.94],[10.17,-19.01],[10.09,-18.85],[9.99,-18.79],[9.99,-18.61]],
  [[10.68,-18.06],[10.81,-17.96],[10.96,-18.2],[11.07,-18.68],[11.11,-19.16],[11.04,-19.22],[10.9,-18.92],[10.77,-18.56],[10.68,-18.26],[10.68,-18.06]],
  [[9.73,-18.02],[9.75,-17.97],[9.77,-18.02],[9.75,-18.07],[9.73,-18.02]],
];

// z / Satellite
const Z_S_O10: Path[] = [
  [[9.55,-13.1],[9.75,-13.37],[10.0,-13.67],[10.26,-14.04],[10.48,-14.52],[10.7,-15.01],[10.92,-15.62],[11.07,-15.86],[11.28,-16.23],[11.5,-16.84],[11.72,-17.45],[11.94,-18.05],[12.16,-18.66],[12.38,-19.39],[12.6,-20.12],[12.79,-20.73],[12.97,-21.1]],
  [[8.97,-18.48],[9.13,-18.48],[9.31,-18.48],[9.46,-18.6],[9.68,-18.91],[9.82,-19.21],[9.97,-19.52],[10.12,-19.58],[10.26,-19.76],[10.41,-19.64],[10.55,-19.82],[10.7,-19.88],[10.85,-20.12],[10.99,-20.25],[11.14,-20.31],[11.36,-20.49],[11.58,-20.73],[11.79,-20.91],[12.01,-21.22],[12.23,-21.46],[12.45,-21.52],[12.53,-21.8]],
];
const Z_S_O50: Path[] = [
  [[9.2,-13.36],[9.31,-13.24],[9.53,-13.3],[9.75,-13.55],[10.04,-13.98],[10.34,-14.46],[10.63,-15.01],[10.92,-15.62],[11.14,-16.23],[11.36,-16.84],[11.58,-17.45],[11.8,-18.05],[11.97,-18.66],[12.01,-19.15],[12.01,-19.76],[11.9,-19.86],[11.72,-19.64],[11.5,-19.46],[11.31,-19.15],[11.2,-19.21],[11.14,-19.46],[10.99,-19.64],[10.77,-19.58],[10.48,-19.27],[10.19,-18.97],[9.9,-18.66],[9.61,-18.3],[9.39,-17.81],[9.28,-17.2],[9.23,-16.23],[9.2,-15.01],[9.2,-14.04],[9.2,-13.36]],
];
const Z_S_O90: Path[] = [
  [[9.39,-13.85],[9.5,-13.79],[9.75,-14.04],[10.04,-14.4],[10.34,-14.86],[10.63,-15.4],[10.92,-16.01],[11.12,-16.71],[11.23,-17.45],[11.28,-18.15],[11.19,-18.24],[11.08,-17.93],[10.92,-17.57],[10.7,-17.02],[10.48,-16.53],[10.26,-16.26],[10.08,-16.09],[9.93,-15.93],[9.79,-16.02],[9.64,-15.9],[9.5,-15.69],[9.42,-15.27],[9.4,-14.52],[9.39,-13.85]],
  [[10.25,-17.66],[10.37,-17.59],[10.45,-17.75],[10.41,-17.99],[10.34,-17.99],[10.32,-17.81],[10.25,-17.75],[10.25,-17.66]],
];
const Z_S_P10: Path[] = [
  [[9.61,-13.24],[9.82,-13.43],[10.12,-13.79],[10.41,-14.28],[10.7,-14.83],[10.99,-15.44],[11.21,-16.05],[11.43,-16.65],[11.65,-17.32],[11.87,-17.93],[12.09,-18.6],[12.31,-19.27],[12.53,-19.88],[12.74,-20.49],[12.89,-20.91]],
  [[9.31,-17.14],[9.35,-17.63],[9.46,-17.93],[9.68,-18.24],[9.97,-18.54],[10.26,-18.85],[10.55,-19.15],[10.85,-19.39],[11.07,-19.52],[11.28,-19.64],[11.5,-19.88],[11.72,-20.25],[11.94,-20.67],[12.16,-21.1],[12.31,-21.46],[12.38,-21.65]],
];
const Z_S_P50: Path[] = [
  [[9.31,-14.89],[9.39,-14.16],[9.46,-13.73],[9.68,-13.7],[9.97,-13.98],[10.26,-14.4],[10.55,-14.89],[10.85,-15.5],[11.07,-16.11],[11.28,-16.71],[11.43,-17.32],[11.58,-17.93],[11.65,-18.42],[11.69,-18.78],[11.61,-18.91],[11.43,-18.78],[11.28,-18.54],[11.17,-18.36],[11.07,-18.48],[10.96,-18.85],[10.81,-19.03],[10.63,-19.03],[10.37,-18.85],[10.08,-18.54],[9.79,-18.18],[9.57,-17.75],[9.39,-17.2],[9.33,-16.59],[9.33,-15.74],[9.31,-14.89]],
];
const Z_S_P90: Path[] = [
  [[9.47,-14.04],[9.68,-14.1],[9.97,-14.46],[10.26,-14.91],[10.55,-15.44],[10.79,-16.01],[10.98,-16.62],[11.09,-17.14],[11.14,-17.63],[11.05,-17.71],[10.92,-17.45],[10.77,-16.99],[10.59,-16.6],[10.41,-16.38],[10.19,-16.11],[10.01,-15.81],[9.86,-15.44],[9.75,-15.48],[9.64,-15.74],[9.55,-15.86],[9.49,-15.46],[9.46,-14.73],[9.47,-14.04]],
];

// ---------------- lookup built from the arrays ----------------
type PanelSeries = { o: Path[][]; p: Path[][] };
const CONTOURS: Record<string, PanelSeries> = {
  "u-Central": { o: [U_C_O10, U_C_O50, U_C_O90], p: [U_C_P10, U_C_P50, U_C_P90] },
  "g-Central": { o: [G_C_O10, G_C_O50, G_C_O90], p: [G_C_P10, G_C_P50, G_C_P90] },
  "r-Central": { o: [R_C_O10, R_C_O50, R_C_O90], p: [R_C_P10, R_C_P50, R_C_P90] },
  "i-Central": { o: [I_C_O10, I_C_O50, I_C_O90], p: [I_C_P10, I_C_P50, I_C_P90] },
  "z-Central": { o: [Z_C_O10, Z_C_O50, Z_C_O90], p: [Z_C_P10, Z_C_P50, Z_C_P90] },
  "u-Satellite": { o: [U_S_O10, U_S_O50, U_S_O90], p: [U_S_P10, U_S_P50, U_S_P90] },
  "g-Satellite": { o: [G_S_O10, G_S_O50, G_S_O90], p: [G_S_P10, G_S_P50, G_S_P90] },
  "r-Satellite": { o: [R_S_O10, R_S_O50, R_S_O90], p: [R_S_P10, R_S_P50, R_S_P90] },
  "i-Satellite": { o: [I_S_O10, I_S_O50, I_S_O90], p: [I_S_P10, I_S_P50, I_S_P90] },
  "z-Satellite": { o: [Z_S_O10, Z_S_O50, Z_S_O90], p: [Z_S_P10, Z_S_P50, Z_S_P90] },
};

// ---------------- layout ----------------
const W = 1341;
const H = 664;
const PANEL_LEFT = [105, 362.5, 620, 877.5, 1134];
const PANEL_W = 182.5;
const ROW_TOP = [45, 375];
const ROW_BOTTOM = [280.7, 609.5];
const FONT = "DejaVu Sans, Verdana, sans-serif";
const AXIS_COLOR = "#333";

function fmtMinus(v: number) {
  return v < 0 ? "\u2212" + Math.abs(v) : String(v);
}

function pathD(pts: Path, x: d3.ScaleLogarithmic<number, number>, y: d3.ScaleLinear<number, number>) {
  const n = pts.length;
  const closed = n > 3 && pts[0][0] === pts[n - 1][0] && pts[0][1] === pts[n - 1][1];
  const gen = d3
    .line<Pt>()
    .x((d) => x(Math.pow(10, d[0])))
    .y((d) => y(d[1]))
    .curve(closed ? d3.curveCatmullRomClosed.alpha(0.5) : d3.curveCatmullRom.alpha(0.5));
  return gen(closed ? pts.slice(0, -1) : pts) || "";
}

function Panel({ band, bi, row, ri }: { band: string; bi: number; row: string; ri: number }) {
  const x0 = PANEL_LEFT[bi];
  const y0 = ROW_TOP[ri];
  const y1 = ROW_BOTTOM[ri];
  const yr = ri === 0 ? Y_RANGE_CENTRAL[bi] : Y_RANGE_SATELLITE[bi];
  const yt = ri === 0 ? Y_TICKS_CENTRAL[bi] : Y_TICKS_SATELLITE[bi];
  const x = d3.scaleLog().domain([1e9, 1e13]).range([x0, x0 + PANEL_W]);
  const y = d3.scaleLinear().domain(yr).range([y0, y1]);
  const key = `${band}-${row}`;
  const data = CONTOURS[key];
  const clipId = `clip-${key}`;
  const minor: number[] = [];
  X_DECADES.slice(0, -1).forEach((k) => X_MINOR_STEPS.forEach((s) => minor.push(s * Math.pow(10, k))));
  const labelY = ri === 0 ? y1 + 18.5 : y1 + 17;

  return (
    <g>
      <defs>
        <clipPath id={clipId}>
          <rect x={x0} y={y0} width={PANEL_W} height={y1 - y0} />
        </clipPath>
      </defs>
      <g clipPath={`url(#${clipId})`} fill="none" strokeWidth={1.6} strokeLinejoin="round" strokeLinecap="round">
        {data.o.map((paths, li) =>
          paths.map((p, pi) => <path key={`o${li}-${pi}`} d={pathD(p, x, y)} stroke={ORIGINAL_COLORS[li]} />)
        )}
        {data.p.map((paths, li) =>
          paths.map((p, pi) => <path key={`p${li}-${pi}`} d={pathD(p, x, y)} stroke={PREDICTED_COLORS[li]} />)
        )}
      </g>
      <rect x={x0} y={y0} width={PANEL_W} height={y1 - y0} fill="none" stroke={AXIS_COLOR} strokeWidth={1} />
      {yt.map((t) => (
        <g key={`yt${t}`}>
          <line x1={x0 - 5} x2={x0} y1={y(t)} y2={y(t)} stroke={AXIS_COLOR} strokeWidth={1} />
          <text x={x0 - 7.5} y={y(t)} dy="0.36em" textAnchor="end" fontSize={17} fontFamily={FONT} fill="#111">
            {fmtMinus(t)}
          </text>
        </g>
      ))}
      {minor.map((m, i) => (
        <line key={`mn${i}`} x1={x(m)} x2={x(m)} y1={y1} y2={y1 + 2.8} stroke={AXIS_COLOR} strokeWidth={0.8} />
      ))}
      {X_DECADES.map((k) => {
        const px = x(Math.pow(10, k));
        return (
          <g key={`xt${k}`}>
            <line x1={px} x2={px} y1={y1} y2={y1 + 5} stroke={AXIS_COLOR} strokeWidth={1} />
            <text x={px} y={labelY} textAnchor="middle" fontSize={17} fontFamily={FONT} fill="#111">
              10
              <tspan dy={-7.5} fontSize={12}>
                {k}
              </tspan>
            </text>
          </g>
        );
      })}
      {ri === 0 && (
        <text x={x0 + PANEL_W / 2} y={38} textAnchor="middle" fontSize={36} fontFamily={FONT} fill="#000">
          {band}
        </text>
      )}
    </g>
  );
}

function Legend({ title, colors, cx, start }: { title: string; colors: string[]; cx: number; start: number }) {
  return (
    <g fontFamily={FONT} fill="#111">
      <text x={cx} y={328} textAnchor="middle" fontSize={17}>
        {title}
      </text>
      {LEVELS.map((lv, i) => {
        const a = start + i * 170;
        return (
          <g key={lv}>
            <line x1={a} x2={a + 87} y1={341} y2={341} stroke={colors[i]} strokeWidth={1.8} />
            <text x={a + 43.5} y={363} textAnchor="middle" fontSize={17}>
              {lv}
            </text>
          </g>
        );
      })}
    </g>
  );
}

export default function App() {
  return (
    <svg
      width={W}
      height={H}
      viewBox={`0 0 ${W} ${H}`}
      style={{ position: "absolute", left: 0, top: 0, display: "block", background: "#fff" }}
    >
      <rect x={0} y={0} width={W} height={H} fill="#fff" />
      {ROWS.map((row, ri) => BANDS.map((band, bi) => <Panel key={`${row}-${band}`} band={band} bi={bi} row={row} ri={ri} />))}
      <Legend title="Original" colors={ORIGINAL_COLORS} cx={372} start={158} />
      <Legend title="Predicted" colors={PREDICTED_COLORS} cx={1051} start={837} />
      <text transform="translate(37,326) rotate(-90)" textAnchor="middle" fontSize={30} fontFamily={FONT} fill="#111">
        Absolute Band Magnitude
      </text>
      <text transform="translate(53,166) rotate(-90)" textAnchor="middle" fontSize={19} fontFamily={FONT} fill="#111">
        {ROWS[0]}
      </text>
      <text transform="translate(53,494) rotate(-90)" textAnchor="middle" fontSize={19} fontFamily={FONT} fill="#111">
        {ROWS[1]}
      </text>
      <text x={697} y={656} textAnchor="middle" fontSize={28} fontFamily={FONT} fill="#111">
        Stellar Mass (<tspan fontStyle="italic">M</tspan>
        <tspan dy={3} fontSize={17}>
          {"\u2299"}
        </tspan>
        <tspan dy={-3}>)</tspan>
      </text>
    </svg>
  );
}
